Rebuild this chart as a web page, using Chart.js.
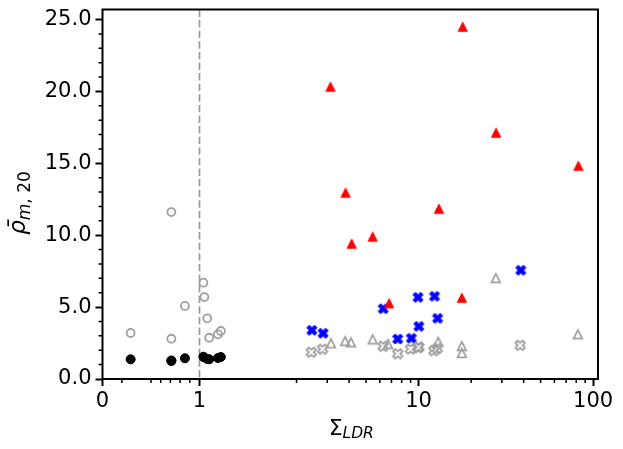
<!DOCTYPE html>
<html>
<head>
<meta charset="utf-8">
<script src="https://cdn.jsdelivr.net/npm/chart.js@4.4.1/dist/chart.umd.min.js"></script>
<style>
  html, body { margin: 0; padding: 0; background: #fff; }
  #wrap { width: 623px; height: 449px; }
</style>
</head>
<body>
<div id="wrap"><canvas id="chart" width="623" height="449"></canvas></div>
<script>
// values
const blackX = [0.29, 0.71, 0.71, 0.85, 1.04, 1.05, 1.08, 1.10, 1.19, 1.22];
const blackY = [1.37, 1.25, 1.29, 1.44, 1.55, 1.50, 1.39, 1.37, 1.46, 1.53];

const openCircX = [0.29, 0.71, 0.71, 0.85, 1.04, 1.05, 1.08, 1.10, 1.19, 1.22];
const openCircY = [3.20, 11.61, 2.80, 5.08, 6.70, 5.70, 4.22, 2.87, 3.11, 3.34];

const blueX = [2.45, 2.84, 6.28, 7.60, 9.10, 9.93, 10.04, 12.35, 12.85, 38.5];
const blueY = [3.39, 3.18, 4.89, 2.78, 2.83, 5.68, 3.66, 5.75, 4.22, 7.56];

const openCrossX = [2.43, 2.82, 6.27, 7.60, 8.99, 9.95, 10.04, 12.24, 12.80, 38.2];
const openCrossY = [1.86, 2.07, 2.27, 1.76, 2.09, 2.18, 2.22, 1.97, 2.13, 2.34];

const redX = [3.13, 3.82, 4.14, 5.46, 6.78, 13.08, 17.7, 17.9, 27.8, 82.3];
const redY = [20.33, 12.96, 9.41, 9.90, 5.26, 11.84, 5.65, 24.50, 17.13, 14.83];

const openTriX = [3.15, 3.80, 4.10, 5.46, 6.69, 12.97, 17.7, 17.7, 27.7, 81.7];
const openTriY = [2.48, 2.64, 2.55, 2.76, 2.43, 2.59, 2.29, 1.81, 7.02, 3.11];

const xMajor = [0, 1, 10, 100];
const xMajorLabels = ["0", "1", "10", "100"];
const xMinor = [0.2, 0.5, 0.6, 0.7, 0.8, 0.9, 2, 3, 4, 5, 6, 7, 8, 9, 20, 30, 40, 50, 60, 70, 80, 90];
const yMajor = [0, 5, 10, 15, 20, 25];
const yMinor = [1, 2, 3, 4, 6, 7, 8, 9, 11, 12, 13, 14, 16, 17, 18, 19, 21, 22, 23, 24];

const GRAY = "#a0a0a0";

// symlog transform, linthresh 2, linscale 1 (like matplotlib)
const LINTHRESH = 2;
const LINSCALE = 1 / (1 - 1 / 10);
function symT(v) {
  const a = Math.abs(v);
  if (a <= LINTHRESH) return v * LINSCALE;
  return Math.sign(v) * LINTHRESH * (LINSCALE + Math.log10(a / LINTHRESH));
}
function symInv(t) {
  const a = Math.abs(t);
  if (a <= LINTHRESH * LINSCALE) return t / LINSCALE;
  return Math.sign(t) * LINTHRESH * Math.pow(10, a / LINTHRESH - LINSCALE);
}

class SymlogScale extends Chart.LinearScale {
  determineDataLimits() {
    this.min = this.options.min;
    this.max = this.options.max;
  }
  buildTicks() {
    return xMajor.map((v) => ({ value: v }));
  }
  getPixelForValue(v) {
    const t0 = symT(this.min), t1 = symT(this.max);
    return this.getPixelForDecimal((symT(v) - t0) / (t1 - t0));
  }
  getValueForPixel(p) {
    const t0 = symT(this.min), t1 = symT(this.max);
    return symInv(t0 + this.getDecimalForPixel(p) * (t1 - t0));
  }
}
SymlogScale.id = "symlog";
SymlogScale.defaults = {};
Chart.register(SymlogScale);

// marker images for the shapes Chart.js doesn't have
function markerCanvas(draw) {
  const c = document.createElement("canvas");
  c.width = 18;
  c.height = 18;
  const g = c.getContext("2d");
  g.translate(9, 9);
  draw(g);
  return c;
}
function xPath(g, u) {
  const pts = [[-1, -3], [1, -3], [1, -1], [3, -1], [3, 1], [1, 1], [1, 3], [-1, 3], [-1, 1], [-3, 1], [-3, -1], [-1, -1]];
  const k = Math.SQRT1_2;
  g.beginPath();
  pts.forEach(([a, b], i) => {
    const x = (a - b) * k * u, y = (a + b) * k * u;
    if (i) g.lineTo(x, y); else g.moveTo(x, y);
  });
  g.closePath();
}
function triPath(g, h) {
  g.beginPath();
  g.moveTo(0, -h);
  g.lineTo(-h, h);
  g.lineTo(h, h);
  g.closePath();
}

const blueCross = markerCanvas((g) => {
  xPath(g, 1.8);
  g.fillStyle = "#0000ff"; g.fill();
  g.strokeStyle = "#0000ff"; g.lineWidth = 1; g.stroke();
});
const grayCross = markerCanvas((g) => {
  xPath(g, 1.7);
  g.strokeStyle = GRAY; g.lineWidth = 1.8; g.stroke();
});
const redTri = markerCanvas((g) => {
  triPath(g, 4.6);
  g.fillStyle = "#ff0000"; g.fill();
  g.strokeStyle = "#ff0000"; g.lineWidth = 1; g.stroke();
});
const grayTri = markerCanvas((g) => {
  triPath(g, 4.3);
  g.strokeStyle = GRAY; g.lineWidth = 1.8; g.stroke();
});

function pts(xs, ys) {
  return xs.map((x, i) => ({ x: x, y: ys[i] }));
}

function drawRich(ctx, parts, x, y, center) {
  let w = 0;
  parts.forEach((p) => { ctx.font = p.font; w += ctx.measureText(p.text).width; });
  let cx = center ? x - w / 2 : x;
  parts.forEach((p) => {
    ctx.font = p.font;
    ctx.fillText(p.text, cx, y + (p.dy || 0));
    cx += ctx.measureText(p.text).width;
  });
}

const decor = {
  id: "decor",
  beforeDatasetsDraw(chart) {
    const { ctx, chartArea } = chart;
    const px = chart.scales.x.getPixelForValue(1);
    ctx.save();
    ctx.strokeStyle = "#999999";
    ctx.lineWidth = 1.7;
    ctx.setLineDash([7.4, 3.2]);
    ctx.beginPath();
    ctx.moveTo(px, chartArea.top);
    ctx.lineTo(px, chartArea.bottom);
    ctx.stroke();
    ctx.restore();
  },
  afterDatasetsDraw(chart) {
    const { ctx, chartArea } = chart;
    const xs = chart.scales.x, ys = chart.scales.y;
    ctx.save();
    ctx.strokeStyle = "#000";
    ctx.lineWidth = 1.5;
    ctx.beginPath();
    xMinor.forEach((v) => {
      const p = xs.getPixelForValue(v);
      ctx.moveTo(p, chartArea.bottom);
      ctx.lineTo(p, chartArea.bottom + 4);
    });
    yMinor.forEach((v) => {
      const p = ys.getPixelForValue(v);
      ctx.moveTo(chartArea.left, p);
      ctx.lineTo(chartArea.left - 4, p);
    });
    ctx.stroke();
    ctx.lineWidth = 2;
    ctx.strokeRect(chartArea.left, chartArea.top, chartArea.right - chartArea.left, chartArea.bottom - chartArea.top);

    // axis titles with subscripts
    ctx.fillStyle = "#000";
    ctx.textBaseline = "alphabetic";
    drawRich(ctx, [
      { text: "\u03a3", font: '22px "DejaVu Sans"' },
      { text: "LDR", font: 'italic 15.5px "DejaVu Sans"', dy: 2.5 }
    ], (chartArea.left + chartArea.right) / 2 + 1, 435, true);

    ctx.translate(25, 203);
    ctx.rotate(-Math.PI / 2);
    drawRich(ctx, [
      { text: "\u03c1\u0304", font: 'italic 23px "DejaVu Sans"' },
      { text: "m", font: 'italic 17px "DejaVu Sans"', dy: 4.5 },
      { text: ", 20", font: '17px "DejaVu Sans"', dy: 4.5 }
    ], 0, 0, true);
    ctx.restore();
  }
};

const tickFont = { family: "DejaVu Sans", size: 21 };

new Chart(document.getElementById("chart"), {
  type: "scatter",
  data: {
    datasets: [
      { label: "black", data: pts(blackX, blackY), pointStyle: "circle", pointRadius: 4.5, backgroundColor: "#000", borderColor: "#000", borderWidth: 1, order: 6 },
      { label: "open circles", data: pts(openCircX, openCircY), pointStyle: "circle", pointRadius: 4, backgroundColor: "rgba(0,0,0,0)", borderColor: GRAY, borderWidth: 1.8, order: 5 },
      { label: "blue", data: pts(blueX, blueY), pointStyle: blueCross, pointRadius: 5, order: 4 },
      { label: "open crosses", data: pts(openCrossX, openCrossY), pointStyle: grayCross, pointRadius: 5, order: 3 },
      { label: "red", data: pts(redX, redY), pointStyle: redTri, pointRadius: 5, order: 2 },
      { label: "open triangles", data: pts(openTriX, openTriY), pointStyle: grayTri, pointRadius: 5, order: 1 }
    ]
  },
  options: {
    responsive: false,
    animation: false,
    devicePixelRatio: 1,
    layout: { padding: { left: 0, right: 25, top: 9.5, bottom: 0 } },
    plugins: { legend: { display: false }, tooltip: { enabled: false } },
    scales: {
      x: {
        type: "symlog",
        min: 0,
        max: 106.6,
        afterFit: (s) => { s.height = 70; s.paddingLeft = 0; s.paddingRight = 0; },
        border: { display: false },
        grid: { drawOnChartArea: false, drawTicks: true, tickLength: 7, tickWidth: 2, tickColor: "#000" },
        ticks: {
          autoSkip: false,
          maxRotation: 0,
          padding: 3,
          color: "#000",
          font: tickFont,
          callback: (v) => xMajorLabels[xMajor.indexOf(v)]
        }
      },
      y: {
        type: "linear",
        min: 0,
        max: 25.7,
        afterFit: (s) => { s.width = 102.5; s.paddingTop = 0; s.paddingBottom = 0; },
        afterBuildTicks: (s) => { s.ticks = yMajor.map((v) => ({ value: v })); },
        border: { display: false },
        grid: { drawOnChartArea: false, drawTicks: true, tickLength: 7, tickWidth: 2, tickColor: "#000" },
        ticks: {
          padding: 4,
          color: "#000",
          font: tickFont,
          callback: (v) => v.toFixed(1)
        }
      }
    }
  },
  plugins: [decor]
});
</script>
</body>
</html>
